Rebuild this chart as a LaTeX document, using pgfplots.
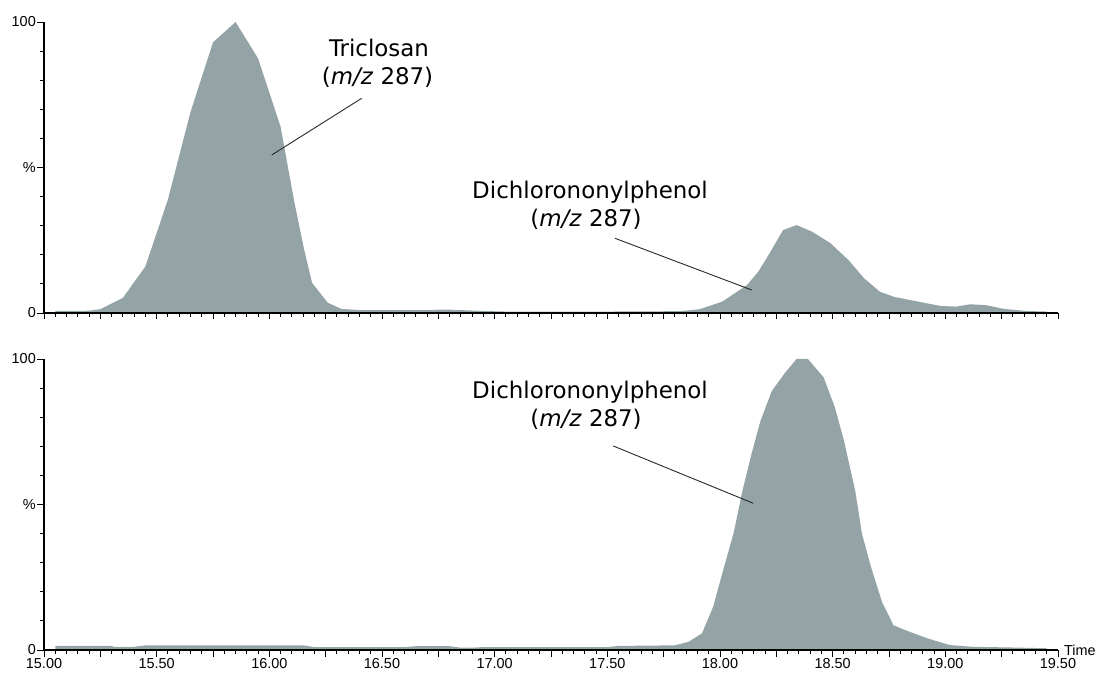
\documentclass[border=0pt]{standalone}
\usepackage{fontspec}
\setmainfont{Liberation Sans}
\newfontfamily\annotfont{DejaVu Sans}
\usepackage{pgfplots}
\pgfplotsset{compat=1.18}

\definecolor{peakgray}{RGB}{148,163,166}
\definecolor{leader}{RGB}{40,40,40}

% shared look of both chromatogram panels
\pgfplotsset{chromstyle/.style={
  scale only axis, width=1014bp, height=291bp,
  xmin=15, xmax=19.5, ymin=0, ymax=100,
  axis x line=bottom, axis y line=left,
  axis line style={-, line width=1.9bp, black},
  axis on top,
  tick align=outside,
  major tick length=6.5bp, minor tick length=4bp,
  tick style={black, line width=0.9bp},
  xtick={15,15.25,...,19.5},
  minor x tick num=4,
  ytick={0,50,100}, yticklabels={0,\%,100},
  minor ytick={10,20,30,40,60,70,80,90},
  tick label style={font=\fontsize{14.5}{17}\selectfont},
  yticklabel style={inner sep=1.5bp},
  xticklabel style={inner sep=1.5bp},
  clip=false,
}}

\newcommand{\annot}{\annotfont\fontsize{23}{28}\selectfont}

\begin{document}
\begin{tikzpicture}
\path[use as bounding box] (0,0) rectangle (1101bp,675bp);

% upper trace: triclosan and dichlorononylphenol, m/z 287
\begin{axis}[chromstyle, at={(44bp,362bp)}, anchor=south west, xticklabels={}]
\addplot[fill=peakgray, draw=none] coordinates {
(15.05,0.7) (15.15,0.7) (15.20,0.8) (15.25,1.3) (15.35,5.2) (15.45,16.0)
(15.55,39.0) (15.65,69.0) (15.75,93.0) (15.85,100.0) (15.95,87.5) (16.05,64.0)
(16.11,38.5) (16.155,21.6) (16.19,10.3) (16.26,3.5) (16.32,1.4) (16.40,1.0)
(16.70,1.0) (16.78,1.2) (16.85,1.0) (16.95,0.7) (17.05,0.5) (17.50,0.5)
(17.75,0.6) (17.82,0.6) (17.91,1.3) (18.01,3.9) (18.12,9.6) (18.17,14.2)
(18.22,20.5) (18.28,28.5) (18.34,30.2) (18.41,27.9) (18.49,24.0) (18.57,18.2)
(18.64,11.9) (18.71,7.3) (18.77,5.6) (18.86,4.2) (18.98,2.4) (19.05,2.2)
(19.11,3.0) (19.18,2.7) (19.26,1.4) (19.36,0.7) (19.45,0.5)
} \closedcycle;
\end{axis}

% lower trace: dichlorononylphenol standard, m/z 287
\begin{axis}[chromstyle, at={(44bp,25bp)}, anchor=south west,
  xticklabels={15.00,{},15.50,{},16.00,{},16.50,{},17.00,{},17.50,{},18.00,{},18.50,{},19.00,{},19.50}]
\addplot[fill=peakgray, draw=none] coordinates {
(15.05,1.4) (15.30,1.4) (15.31,1.1) (15.40,1.1) (15.45,1.6) (16.15,1.6)
(16.20,1.0) (16.60,1.0) (16.65,1.3) (16.80,1.3) (16.85,0.8) (16.90,0.8)
(16.95,1.0) (17.50,1.0) (17.55,1.4) (17.80,1.6) (17.86,2.8) (17.92,5.7)
(17.97,14.9) (18.01,26.3) (18.06,40.0) (18.10,54.8) (18.14,67.4) (18.18,78.8)
(18.23,89.0) (18.29,95.4) (18.34,100.0) (18.39,100.0) (18.46,93.7) (18.51,83.4)
(18.55,72.0) (18.60,54.8) (18.63,40.0) (18.67,28.6) (18.72,16.3) (18.77,8.5)
(18.82,6.9) (18.92,4.0) (19.02,1.7) (19.12,1.1) (19.27,0.9) (19.45,0.6)
} \closedcycle;
\node[anchor=west, inner sep=0pt, xshift=6bp, font=\fontsize{14.5}{17}\selectfont]
  at (axis cs:19.5,0) {Time};
\end{axis}

% peak labels with leader lines
\node[anchor=base, inner sep=0pt] at (379bp,618.3bp) {\annot Triclosan};
\node[anchor=base, inner sep=0pt] at (377.5bp,590bp) {\annot (\textit{m/z} 287)};
\draw[leader, line width=0.9bp] (361.7bp,576.7bp) -- (271.7bp,520bp);

\node[anchor=base, inner sep=0pt] at (590bp,476.7bp) {\annot Dichlorononylphenol};
\node[anchor=base, inner sep=0pt] at (586bp,448.3bp) {\annot (\textit{m/z} 287)};
\draw[leader, line width=0.9bp] (615bp,436.7bp) -- (751.7bp,385bp);

\node[anchor=base, inner sep=0pt] at (590bp,276.7bp) {\annot Dichlorononylphenol};
\node[anchor=base, inner sep=0pt] at (586bp,248.3bp) {\annot (\textit{m/z} 287)};
\draw[leader, line width=0.9bp] (613.3bp,229bp) -- (753.3bp,171.7bp);
\end{tikzpicture}
\end{document}
